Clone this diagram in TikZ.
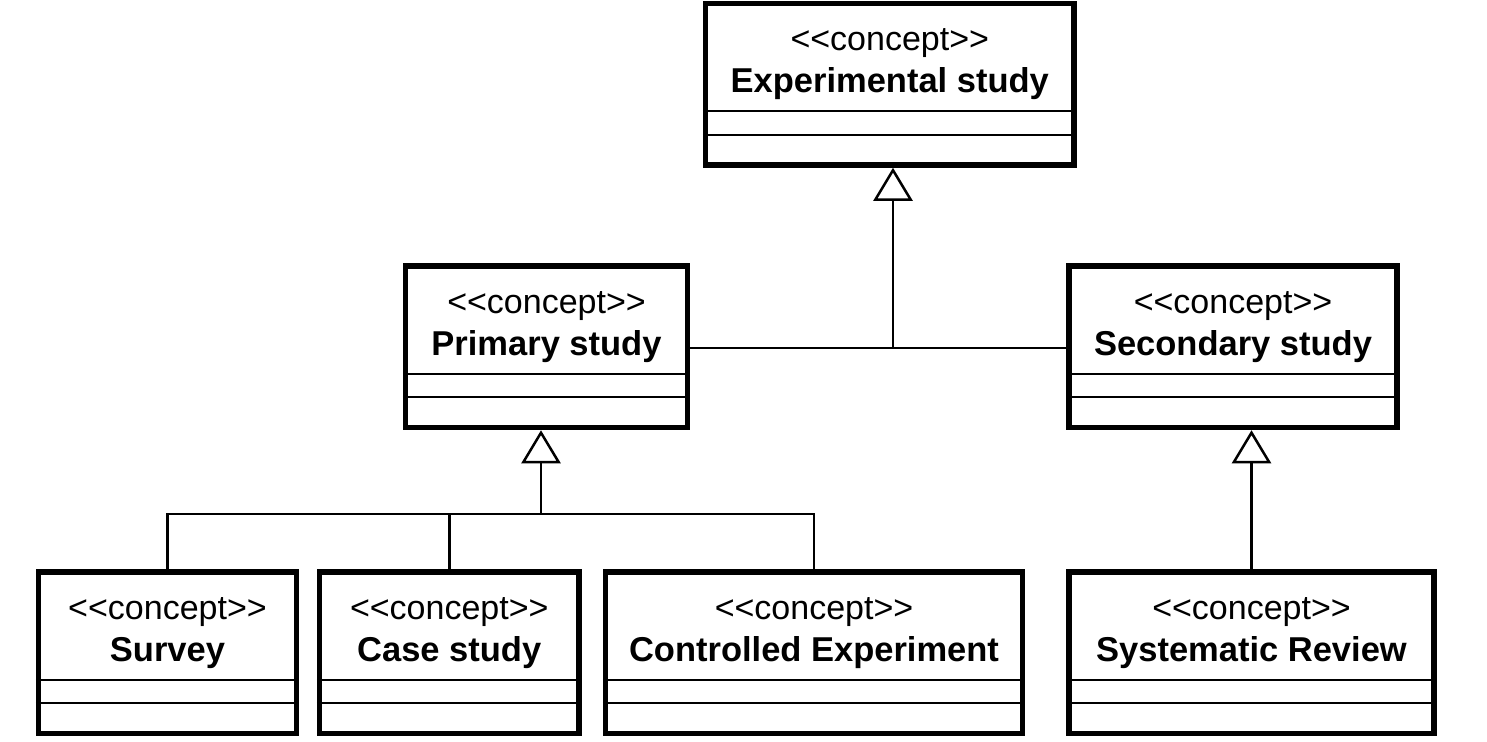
\documentclass[tikz,border=0pt]{standalone}
\usepackage{fontspec}
\setmainfont{Liberation Sans}
\usetikzlibrary{arrows.meta}
\tikzset{
  umlbox/.style={draw, line width=5.5pt, anchor=north west, inner sep=0pt, minimum height=161.5pt, fill=white},
  stereo/.style={anchor=base, inner sep=0pt, font=\fontsize{34}{38}\selectfont},
  cname/.style={anchor=base, inner sep=0pt, font=\fontsize{34.5}{38}\selectfont\bfseries},
  sepline/.style={line width=2pt},
  conn/.style={line width=2.5pt},
  gen/.style={conn, -{Triangle[open, width=39pt, length=33pt, line width=2.5pt]}}
}
\newcommand{\umlclass}[5]{%
  \node[umlbox, minimum width=#4pt] (#1) at (#2,#3) {};
  \node[stereo] (#1-s) at ([yshift=-49.75pt]#1.north) {<\kern0pt<concept>\kern0pt>};
  \node[cname] (#1-n) at ([yshift=-91.75pt]#1.north) {#5};
  \draw[sepline] ([yshift=-110.25pt]#1.north west) -- ([yshift=-110.25pt]#1.north east);
  \draw[sepline] ([yshift=-133.75pt]#1.north west) -- ([yshift=-133.75pt]#1.north east);
}
\begin{document}
\begin{tikzpicture}[x=1pt,y=-1pt]
\useasboundingbox[fill=white] (0,0) rectangle (1487,741);
\umlclass{exp}{702.75}{0.75}{368.5}{Experimental study}
\umlclass{prim}{402.75}{263.25}{282}{Primary study}
\umlclass{sec}{1066.25}{263.25}{328}{Secondary study}
\umlclass{surv}{35.75}{569.25}{258}{Survey}
\umlclass{case}{316.75}{569.25}{259.5}{Case study}
\umlclass{ctrl}{602.75}{569.25}{417}{Controlled Experiment}
\umlclass{sysr}{1066.25}{569.25}{365}{Systematic Review}
\coordinate (j1) at (893,348);
\coordinate (j2) at (541,514);
\draw[conn] (prim.east |- j1) -- (sec.west |- j1);
\draw[gen] (j1) -- (j1 |- exp.south);
\draw[gen] (j2) -- (j2 |- prim.south);
\draw[conn] (surv.north) |- (ctrl.north |- j2) -- (ctrl.north);
\draw[conn] (case.north) -- (case.north |- j2);
\draw[gen] (sysr.north) -- (sysr.north |- sec.south);
\end{tikzpicture}
\end{document}
